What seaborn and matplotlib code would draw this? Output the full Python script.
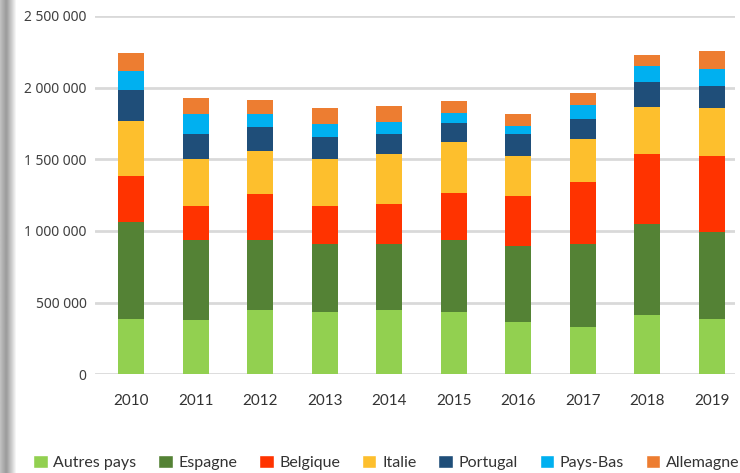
import numpy as np
import pandas as pd
import matplotlib.pyplot as plt
import seaborn as sns
from matplotlib.patches import Patch

# Data
years = ['2010', '2011', '2012', '2013', '2014', '2015', '2016', '2017', '2018', '2019']
series = ['Autres pays', 'Espagne', 'Belgique', 'Italie', 'Portugal', 'Pays-Bas', 'Allemagne']
autres_pays = [386000, 379000, 449000, 435000, 449000, 435000, 363000, 328000, 412000, 384000]
espagne = [674000, 561000, 491000, 472000, 463000, 505000, 530000, 579000, 634000, 606000]
belgique = [324000, 231000, 319000, 264000, 278000, 326000, 352000, 435000, 491000, 533000]
italie = [382000, 331000, 299000, 331000, 347000, 354000, 278000, 299000, 326000, 333000]
portugal = [215000, 174000, 166000, 153000, 139000, 132000, 153000, 139000, 174000, 153000]
pays_bas = [134000, 139000, 91000, 90000, 83000, 72000, 55000, 99000, 111000, 120000]
allemagne = [130000, 111000, 97000, 111000, 111000, 81000, 84000, 81000, 83000, 130000]
colors = ['#92D050', '#548235', '#FF3300', '#FDBF2D', '#1F4E79', '#00B0F0', '#ED7D31']
y_ticks = [0, 500000, 1000000, 1500000, 2000000, 2500000]

df = pd.DataFrame({'year': years, 'Autres pays': autres_pays, 'Espagne': espagne,
                   'Belgique': belgique, 'Italie': italie, 'Portugal': portugal,
                   'Pays-Bas': pays_bas, 'Allemagne': allemagne})
cum = df[series].cumsum(axis=1)

sns.set_theme(style='white')
plt.rcParams['font.family'] = ['Lato', 'DejaVu Sans']

fig = plt.figure(figsize=(7.4, 4.73), dpi=100)
ax = fig.add_axes([0.1284, 0.2087, 0.8648, 0.7575])

# stacked bars: draw running totals from the top down
for name, col in reversed(list(zip(series, colors))):
    sns.barplot(x=df['year'], y=cum[name], color=col, width=0.4,
                saturation=1, linewidth=0, ax=ax, zorder=3)

ax.set_ylim(0, 2500000)
ax.set_xlim(-0.56, 9.36)
ax.set_yticks(y_ticks)
ax.set_yticklabels([f'{v:,}'.replace(',', ' ') for v in y_ticks],
                   fontfamily='Noto Sans', fontsize=10, color='#404040')
ax.tick_params(axis='x', length=0, pad=14, labelsize=11, labelcolor='#333333')
ax.tick_params(axis='y', length=0, pad=6)
ax.grid(axis='y', color='#d9d9d9', linewidth=2, zorder=0)
ax.set_xlabel('')
ax.set_ylabel('')
sns.despine(ax=ax, left=True, bottom=True)

handles = [Patch(facecolor=c, label=s) for s, c in zip(series, colors)]
fig.legend(handles=handles, loc='lower center', bbox_to_anchor=(0.522, -0.024), ncol=7,
           frameon=False, fontsize=11.5, handlelength=0.9, handleheight=0.9,
           handletextpad=0.35, columnspacing=1.38, labelcolor='#333333')

# shaded page edge on the left
sh = fig.add_axes([0, 0, 0.022, 1])
grad = np.concatenate([np.linspace(0.75, 0.62, 6), np.linspace(0.62, 1.0, 10)])
sh.imshow(grad[np.newaxis, :], aspect='auto', cmap='gray', vmin=0, vmax=1)
sh.axis('off')

fig.savefig('out.png', dpi=100)
